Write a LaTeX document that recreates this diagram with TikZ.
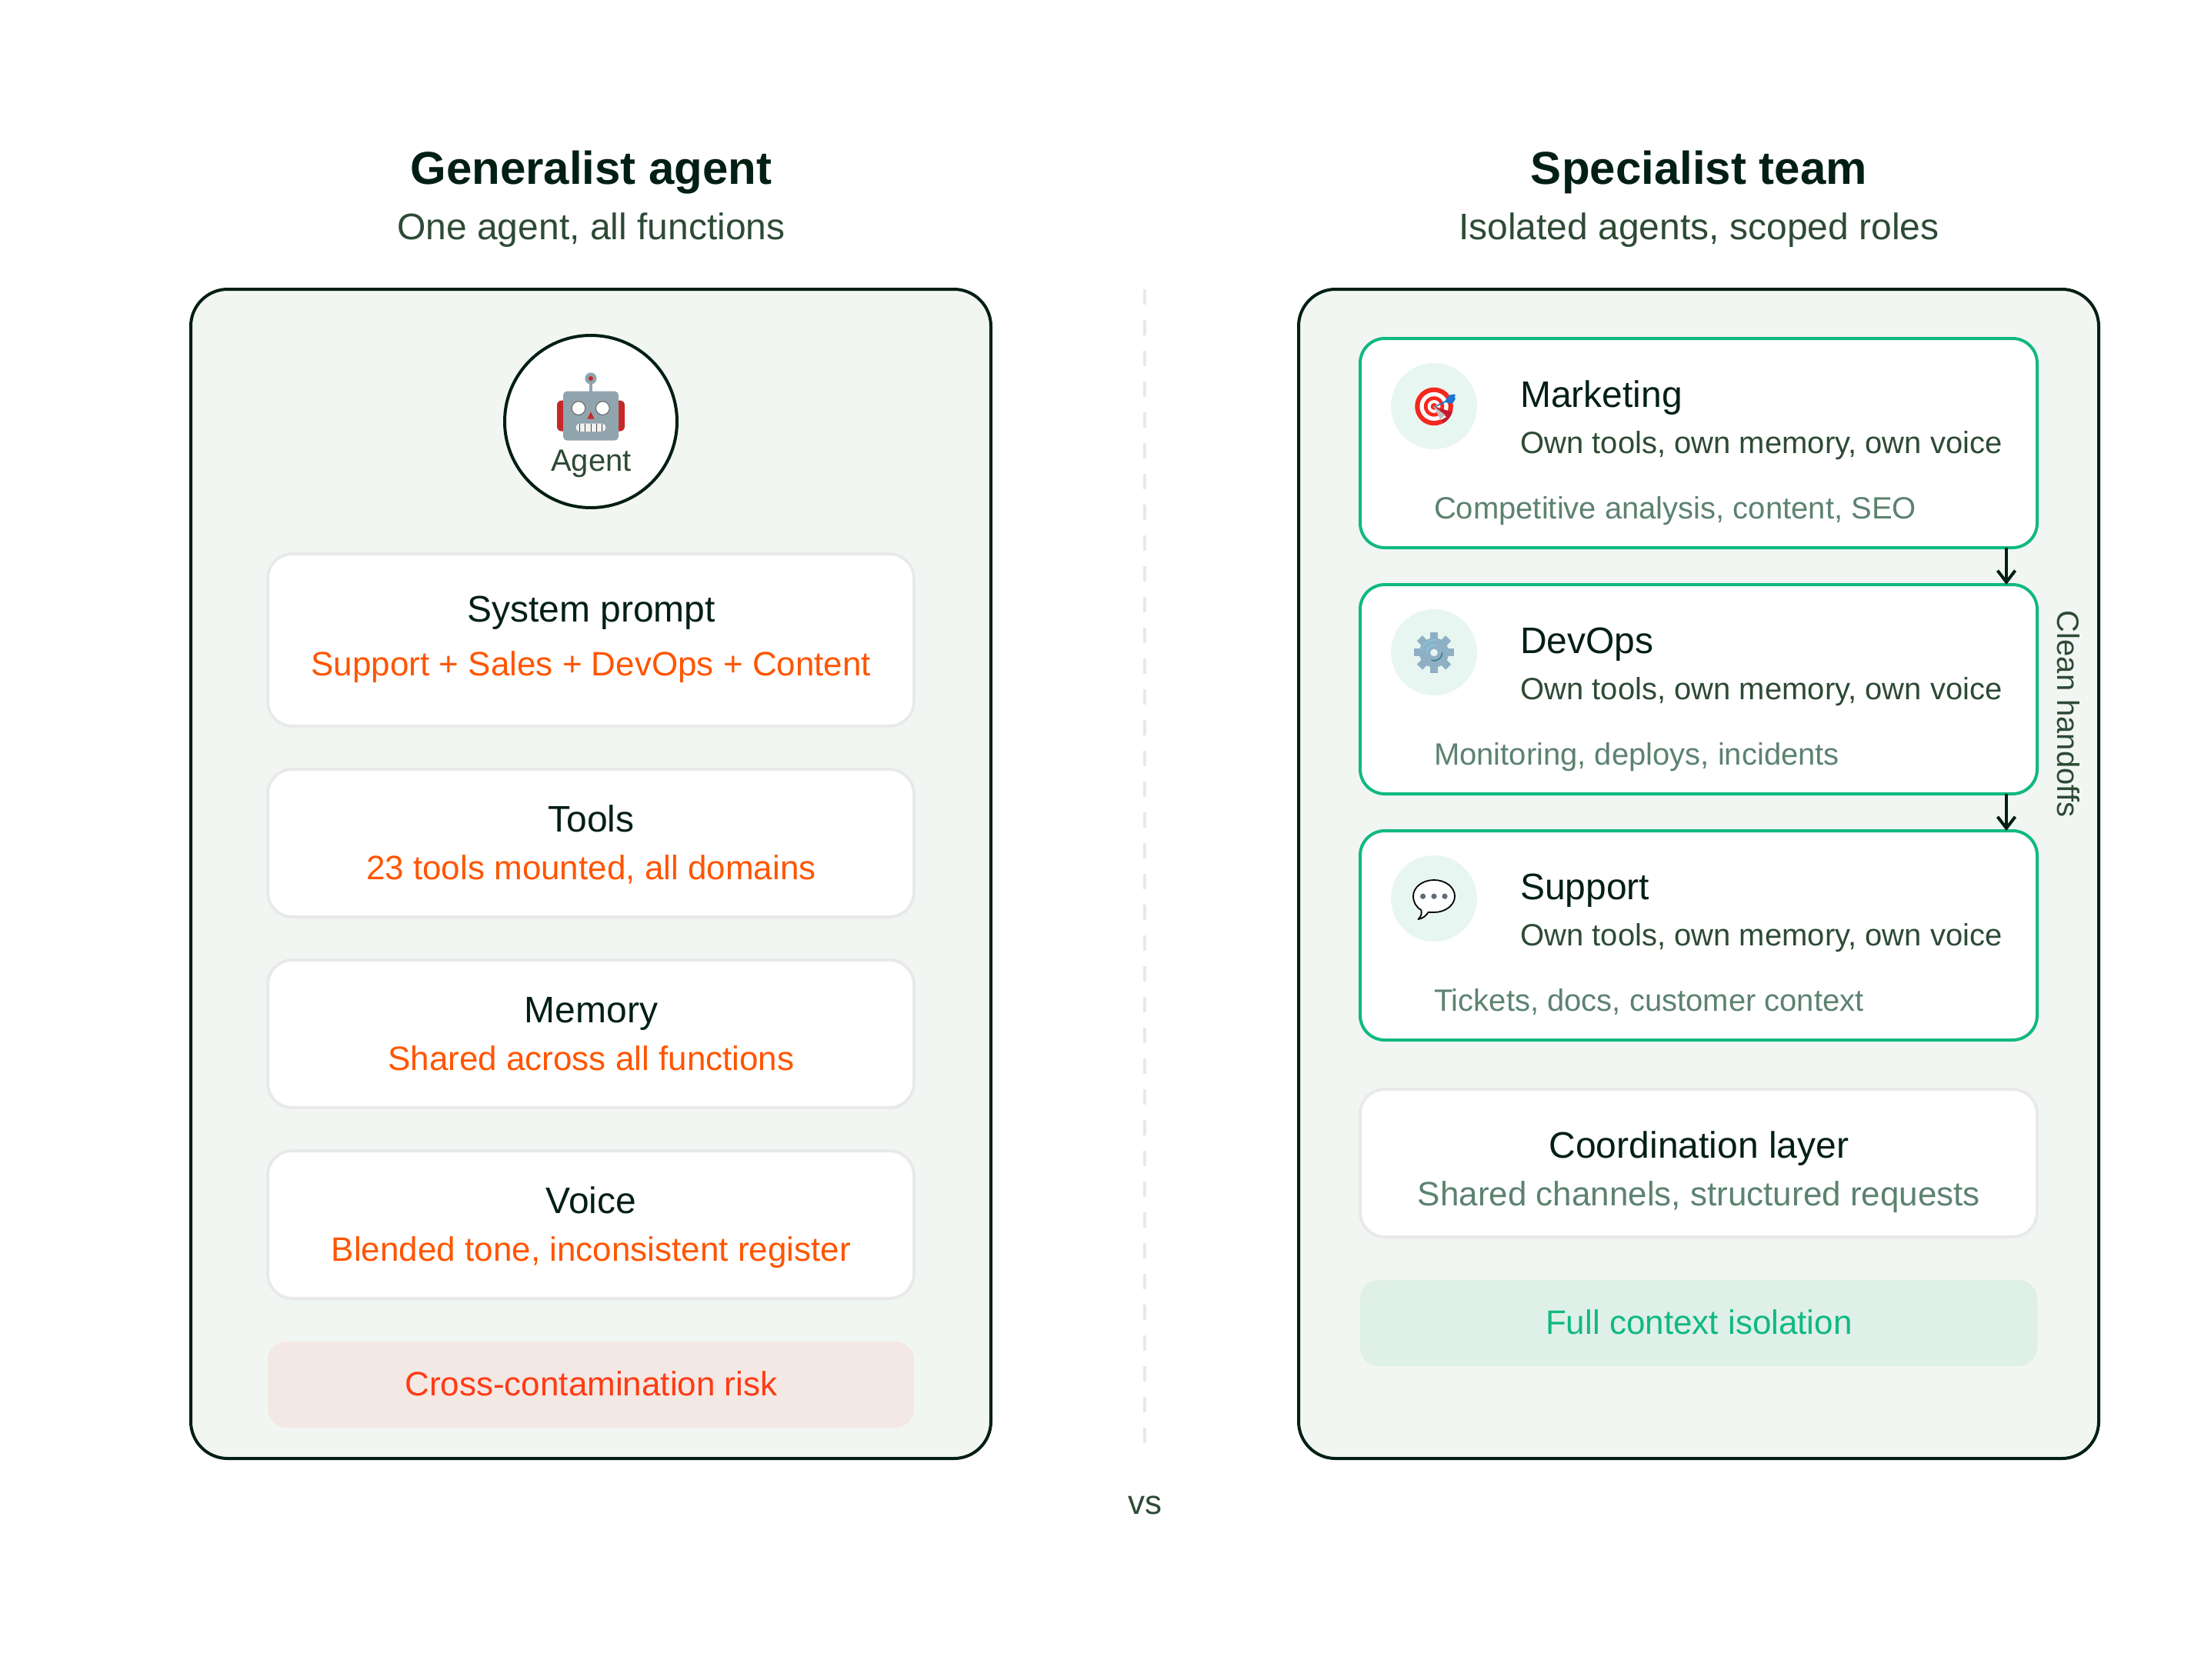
\documentclass[tikz,border=0pt]{standalone}
\usepackage{fontspec}
\setmainfont{Liberation Sans}
\usetikzlibrary{arrows.meta}
\definecolor{ink}{HTML}{021F13}
\definecolor{subink}{HTML}{2D4A35}
\definecolor{mutedink}{HTML}{5C8270}
\definecolor{panelfill}{HTML}{F2F6F3}
\definecolor{softline}{HTML}{E9E9E9}
\definecolor{accent}{HTML}{10B981}
\definecolor{iconbg}{HTML}{E8F6F1}
\definecolor{warn}{HTML}{FF5500}
\definecolor{riskfill}{HTML}{F3E8E3}
\definecolor{riskink}{HTML}{FF3B14}
\definecolor{goodfill}{HTML}{DFF0E8}
\definecolor{robotgrey}{HTML}{90A4AE}
\definecolor{robotred}{HTML}{C62828}
\definecolor{tgtred}{HTML}{F4281E}
\definecolor{tgtdark}{HTML}{C4182E}
\definecolor{dartblue}{HTML}{1976D2}
\definecolor{gearblue}{HTML}{8FB0C4}
\definecolor{gearlight}{HTML}{84C8D8}
\definecolor{geardark}{HTML}{3B7F94}
\definecolor{dotgrey}{HTML}{5F6B7A}
\tikzset{
  every node/.style={inner sep=0pt,outer sep=0pt},
  lab/.style={anchor=base,align=center},
  labw/.style={anchor=base west},
  fH/.style={font=\fontsize{30}{36}\selectfont\bfseries,text=ink},
  fS/.style={font=\fontsize{24}{28}\selectfont,text=subink},
  fN/.style={font=\fontsize{24}{28}\selectfont,text=ink},
  fW/.style={font=\fontsize{22}{26}\selectfont,text=warn},
  fM/.style={font=\fontsize{22}{26}\selectfont,text=mutedink},
  fO/.style={font=\fontsize{20}{24}\selectfont,text=subink},
  fC/.style={font=\fontsize{20}{24}\selectfont,text=mutedink},
  panel/.style={draw=ink,line width=2pt,fill=panelfill,rounded corners=24pt,minimum width=520pt,minimum height=760pt},
  card/.style={draw=softline,line width=2pt,fill=white,rounded corners=16pt,minimum width=420pt},
  agentcard/.style={draw=accent,line width=2pt,fill=white,rounded corners=16pt,minimum width=440pt,minimum height=136pt},
  banner/.style={rounded corners=12pt,minimum height=56pt},
  iconback/.style={circle,fill=iconbg,minimum size=56pt},
  handoff/.style={draw=ink,line width=2pt,-{Straight Barb[length=7.5pt,width=11.5pt,line width=2pt]}},
}
\begin{document}
\begin{tikzpicture}[x=1pt,y=-1pt]
\useasboundingbox (0,0) rectangle (1424,1092);
% headings
\node[lab,fH] (t1) at (384.2,119.7) {Generalist agent};
\node[lab,fS] (s1) at (384.2,155.8) {One agent, all functions};
\node[lab,fH] (t2) at (1104.2,119.7) {Specialist team};
\node[lab,fS] (s2) at (1104.2,155.8) {Isolated agents, scoped roles};
% divider
\coordinate (d1) at (744,188);
\coordinate (d2) at (744,948);
\draw[softline,line width=2pt,dash pattern=on 10pt off 10pt] (d1) -- (d2);
\node[lab,font=\fontsize{22}{26}\selectfont,text=subink] (vs) at (744,984) {vs};
% panels
\node[panel] (pl) at (384,568) {};
\node[panel] (pr) at (1104,568) {};
% agent
\node[circle,draw=ink,line width=2pt,fill=white,minimum size=112pt] (agent) at (384,274) {};
\fill[robotred,rounded corners=3pt] (362,260.3) rectangle (406,280.3);
\fill[robotgrey] (383,247) rectangle (385,256);
\fill[robotgrey] (384,246) circle (3.8);
\fill[robotred] (384,246) circle (1.5);
\fill[robotgrey,rounded corners=2.5pt] (366,254.3) rectangle (402,286.3);
\draw[fill=white,draw=black!62,line width=0.5pt] (376,265.3) circle (4.4);
\draw[fill=white,draw=black!62,line width=0.5pt] (391.7,265.3) circle (4.4);
\fill[robotred] (384,267.7) -- (381.7,272.3) -- (386.3,272.3) -- cycle;
\fill[black!6,rounded corners=2.4pt] (374.3,275.3) rectangle (393.7,280.5);
\foreach \tx in {376.9,380.3,384,387.7,391}{\draw[black!70,line width=0.5pt] (\tx,275.5) -- (\tx,280.3);}
\node[lab,font=\fontsize{20}{24}\selectfont,text=subink] (agentl) at (384.2,306.3) {Agent};
% left cards
\node[card,minimum height=112pt] (c1) at (384,416) {};
\node[card,minimum height=96pt] (c2) at (384,548) {};
\node[card,minimum height=96pt] (c3) at (384,672) {};
\node[card,minimum height=96pt] (c4) at (384,796) {};
\node[banner,fill=riskfill,minimum width=420pt] (risk) at (384,900) {};
\node[lab,fN] (c1a) at (384.2,404.2) {System prompt};
\node[lab,fW] (c1b) at (384.2,439.2) {Support + Sales + DevOps + Content};
\node[lab,fN] (c2a) at (384.2,540.5) {Tools};
\node[lab,fW] (c2b) at (384.2,571.5) {23 tools mounted, all domains};
\node[lab,fN] (c3a) at (384.2,664.5) {Memory};
\node[lab,fW] (c3b) at (384.2,695.5) {Shared across all functions};
\node[lab,fN] (c4a) at (384.2,788.5) {Voice};
\node[lab,fW] (c4b) at (384.2,819.5) {Blended tone, inconsistent register};
\node[lab,font=\fontsize{22}{26}\selectfont,text=riskink] (riskl) at (384.2,907.3) {Cross-contamination risk};
% right cards
\node[agentcard] (mk) at (1104,288) {};
\node[agentcard] (dv) at (1104,448) {};
\node[agentcard] (su) at (1104,608) {};
\coordinate (ax) at (1304,0);
\draw[handoff] (mk.south -| ax) -- (dv.north -| ax);
\draw[handoff] (dv.south -| ax) -- (su.north -| ax);
\node[iconback] (i1) at (932,264) {};
\node[iconback] (i2) at (932,424) {};
\node[iconback] (i3) at (932,584) {};
% target icon
\fill[tgtred] (932,264.2) circle (12.4);
\fill[white] (932,264.2) circle (9.3);
\fill[tgtred] (932,264.2) circle (6.6);
\fill[white] (932,264.2) circle (4.2);
\fill[tgtred] (932,264.2) circle (2.2);
\fill[tgtdark] (932,264.2) -- (943.9,267.8) arc[start angle=17,end angle=62,radius=12.4] -- cycle;
\fill[white] (932,264.2) -- (940,271) -- (936.5,273) -- cycle;
\fill[black!25] (932,264.2) -- (939.3,269.8) -- (936,272.5) -- cycle;
\draw[dartblue,line width=0.9pt] (933,264.2) -- (942,259.7);
\draw[black!40,line width=0.9pt] (931.5,265) -- (935,263);
\fill[dartblue] (939,260.8) -- (942,256.8) -- (945,256.2) -- (946,257) -- (945.2,258.2) -- (946,259) -- (944.5,261.8) -- (941,262.2) -- cycle;
% gear icon
\fill[gearblue] (932,424.2) circle (9.6);
\foreach \ga in {0,45,...,315}{\fill[gearblue,rotate around={\ga:(932,424.2)}] (929.5,411) rectangle (934.5,417);}
\draw[gearlight,line width=0.7pt] (923.8,424.2) arc[start angle=180,end angle=280,radius=8.2];
\draw[gearlight,line width=0.8pt] (927,424.2) arc[start angle=180,end angle=290,radius=5];
\draw[geardark,line width=0.8pt] (937.3,424.2) arc[start angle=0,end angle=110,radius=5.3];
\fill[white!80!gearlight] (932,424.2) circle (2.4);
% speech icon
\draw[fill=white,draw=black,line width=0.9pt,line join=round]
  (923.7,591.5) .. controls (920.3,589.6) and (918.5,586.3) .. (918.5,582.5)
  .. controls (918.5,576.7) and (924.5,572) .. (932,572)
  .. controls (939.5,572) and (945.5,576.7) .. (945.5,582.5)
  .. controls (945.5,588.3) and (939.5,593) .. (932,593)
  .. controls (930.8,593) and (929.5,593) .. (928.3,592.9)
  .. controls (927,595) and (925,597) .. (921.7,597.5)
  .. controls (923.5,596) and (924.2,594) .. (923.7,591.5) -- cycle;
\fill[dotgrey] (924.8,582.6) circle (1.8);
\fill[dotgrey] (932,582.6) circle (1.8);
\fill[dotgrey] (939,582.6) circle (1.8);
% right card text
\node[labw,fN] (m1) at (988,264.5) {Marketing};
\node[labw,fO] (m2) at (988.2,294.7) {Own tools, own memory, own voice};
\node[labw,fC] (m3) at (932,337) {Competitive analysis, content, SEO};
\node[labw,fN] (d1t) at (988,424.5) {DevOps};
\node[labw,fO] (d2t) at (988.2,454.7) {Own tools, own memory, own voice};
\node[labw,fC] (d3t) at (932,497) {Monitoring, deploys, incidents};
\node[labw,fN] (s1t) at (988,584.5) {Support};
\node[labw,fO] (s2t) at (988.2,614.7) {Own tools, own memory, own voice};
\node[labw,fC] (s3t) at (932,657) {Tickets, docs, customer context};
\node[anchor=base,rotate=-90,font=\fontsize{20}{24}\selectfont,text=subink] (ho) at (1337,464) {Clean handoffs};
% coordination
\node[card,minimum width=440pt,minimum height=96pt] (co) at (1104,756) {};
\node[lab,fN] (co1) at (1104.2,752.8) {Coordination layer};
\node[lab,fM] (co2) at (1104.2,783.5) {Shared channels, structured requests};
\node[banner,fill=goodfill,minimum width=440pt] (good) at (1104,860) {};
\node[lab,font=\fontsize{22}{26}\selectfont,text=accent] (goodl) at (1104.2,867.3) {Full context isolation};
\end{tikzpicture}
\end{document}
